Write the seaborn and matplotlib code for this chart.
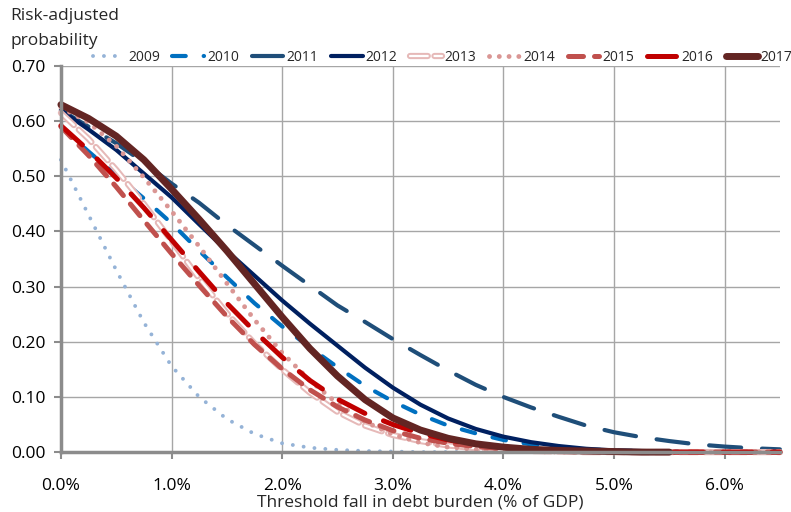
import numpy as np
import pandas as pd
import seaborn as sns
import matplotlib.pyplot as plt
import matplotlib.patheffects as pe
from matplotlib.ticker import FuncFormatter, MultipleLocator

# threshold fall in debt burden, % of GDP
x_vals = [0.0, 0.25, 0.5, 0.75, 1.0, 1.25, 1.5, 1.75, 2.0, 2.25, 2.5, 2.75, 3.0,
          3.25, 3.5, 3.75, 4.0, 4.25, 4.5, 4.75, 5.0, 5.25, 5.5, 5.75, 6.0, 6.25, 6.5]

nan = np.nan
p2009 = [0.53, 0.43, 0.33, 0.235, 0.156, 0.10, 0.06, 0.033, 0.016, 0.008, 0.004, 0.002, 0.001,
         0.0, 0.0, 0.0, 0.0, nan, nan, nan, nan, nan, nan, nan, nan, nan, nan]
p2010 = [0.59, 0.545, 0.502, 0.46, 0.415, 0.365, 0.317, 0.27, 0.228, 0.19, 0.154, 0.12, 0.092,
         0.068, 0.048, 0.034, 0.022, 0.014, 0.008, 0.005, 0.003, 0.002, 0.001, 0.001, 0.0, 0.0, 0.0]
p2011 = [0.62, 0.59, 0.56, 0.525, 0.487, 0.452, 0.412, 0.375, 0.338, 0.302, 0.266, 0.236, 0.205,
         0.176, 0.148, 0.122, 0.10, 0.081, 0.064, 0.048, 0.036, 0.027, 0.02, 0.014, 0.01, 0.007, 0.005]
p2012 = [0.62, 0.585, 0.548, 0.505, 0.462, 0.413, 0.365, 0.32, 0.275, 0.233, 0.193, 0.153, 0.117,
         0.086, 0.061, 0.042, 0.028, 0.018, 0.011, 0.006, 0.003, 0.002, 0.001, 0.0, 0.0, 0.0, 0.0]
p2013 = [0.615, 0.568, 0.512, 0.45, 0.383, 0.315, 0.252, 0.197, 0.15, 0.108, 0.073, 0.048, 0.031,
         0.02, 0.012, 0.007, 0.004, 0.002, 0.001, 0.0, 0.0, 0.0, 0.0, 0.0, 0.0, 0.0, 0.0]
p2014 = [0.625, 0.598, 0.555, 0.498, 0.437, 0.373, 0.306, 0.24, 0.18, 0.13, 0.088, 0.055, 0.032,
         0.017, 0.009, 0.005, 0.003, 0.001, 0.0, 0.0, 0.0, 0.0, 0.0, 0.0, 0.0, 0.0, 0.0]
p2015 = [0.59, 0.538, 0.481, 0.42, 0.36, 0.302, 0.246, 0.195, 0.151, 0.113, 0.082, 0.058, 0.039,
         0.025, 0.016, 0.01, 0.006, 0.004, 0.002, 0.001, 0.0, 0.0, 0.0, 0.0, 0.0, 0.0, 0.0]
p2016 = [0.592, 0.547, 0.497, 0.443, 0.385, 0.327, 0.27, 0.219, 0.172, 0.13, 0.096, 0.07, 0.05,
         0.034, 0.022, 0.014, 0.009, 0.005, 0.003, 0.002, 0.001, 0.0, 0.0, 0.0, 0.0, 0.0, 0.0]
p2017 = [0.63, 0.605, 0.573, 0.53, 0.477, 0.422, 0.365, 0.305, 0.245, 0.188, 0.138, 0.095, 0.062,
         0.04, 0.025, 0.015, 0.009, 0.005, 0.003, 0.002, 0.001, 0.0, 0.0, nan, nan, nan, nan]

years = ["2009", "2010", "2011", "2012", "2013", "2014", "2015", "2016", "2017"]
series = [p2009, p2010, p2011, p2012, p2013, p2014, p2015, p2016, p2017]

styles = {
    "2009": dict(color="#95B3D7", lw=2.8, ls=(0, (0.01, 2.8))),
    "2010": dict(color="#0070C0", lw=3.0, ls=(0, (3.3, 4.3))),
    "2011": dict(color="#1F4E79", lw=3.0, ls=(0, (7.7, 5.0))),
    "2012": dict(color="#002060", lw=3.0, ls="-"),
    "2013": dict(color="white", lw=1.6, ls=(0, (8.0, 3.0)),
                 path_effects=[pe.Stroke(linewidth=4.5, foreground="#E6B9B8"), pe.Normal()]),
    "2014": dict(color="#DA9694", lw=3.5, ls=(0, (0.01, 2.0))),
    "2015": dict(color="#C0504D", lw=3.6, ls=(0, (3.0, 2.2))),
    "2016": dict(color="#C00000", lw=3.6, ls=(0, (5.8, 4.0))),
    "2017": dict(color="#632523", lw=5.0, ls="-"),
}

df = pd.DataFrame({"x": x_vals})
for yr, vals in zip(years, series):
    df[yr] = vals

sns.set_theme(style="whitegrid")
plt.rcParams["font.family"] = ["Open Sans", "DejaVu Sans"]

fig, ax = plt.subplots(figsize=(7.91, 5.12), dpi=100)
fig.subplots_adjust(left=0.077, right=0.986, bottom=0.117, top=0.871)

for yr in years:
    st = styles[yr]
    kw = dict(color=st["color"], linewidth=st["lw"], linestyle=st["ls"],
              dash_capstyle="round", solid_capstyle="round", clip_on=False)
    if "path_effects" in st:
        kw["path_effects"] = st["path_effects"]
    sns.lineplot(data=df, x="x", y=yr, ax=ax, label=yr, estimator=None, sort=False, **kw)

ax.set_xlim(0, 6.5)
ax.set_ylim(0, 0.70)
ax.xaxis.set_major_locator(MultipleLocator(1.0))
ax.yaxis.set_major_locator(MultipleLocator(0.1))
ax.xaxis.set_major_formatter(FuncFormatter(lambda v, p: f"{v:.1f}%"))
ax.yaxis.set_major_formatter(FuncFormatter(lambda v, p: f"{v:.2f}"))
ax.tick_params(axis="both", labelsize=12.5, colors="#8C8C8C", labelcolor="black",
               length=5, width=1.5, direction="out", bottom=True, left=True)
ax.tick_params(axis="x", pad=14)
ax.tick_params(axis="y", pad=6)
ax.grid(True, color="#A6A6A6", linewidth=1.0)
ax.set_facecolor("white")
for s in ["top", "right"]:
    ax.spines[s].set_visible(False)
for s in ["left", "bottom"]:
    ax.spines[s].set_color("#8C8C8C")
    ax.spines[s].set_linewidth(2.5)

ax.set_xlabel("Threshold fall in debt burden (% of GDP)", fontsize=12.5, labelpad=0)
ax.set_ylabel("")
fig.text(0.013, 0.985, "Risk-adjusted\nprobability", ha="left", va="top", fontsize=12.5,
         linespacing=1.75)

handles, labels = ax.get_legend_handles_labels()
ax.get_legend().remove()
fig.legend(handles, labels, loc="center left", bbox_to_anchor=(0.118, 0.887), ncol=9,
           frameon=False, fontsize=10, handlelength=2.3, handletextpad=0.2,
           columnspacing=0.9, borderaxespad=0, borderpad=0)

fig.savefig("out.png", dpi=100)
